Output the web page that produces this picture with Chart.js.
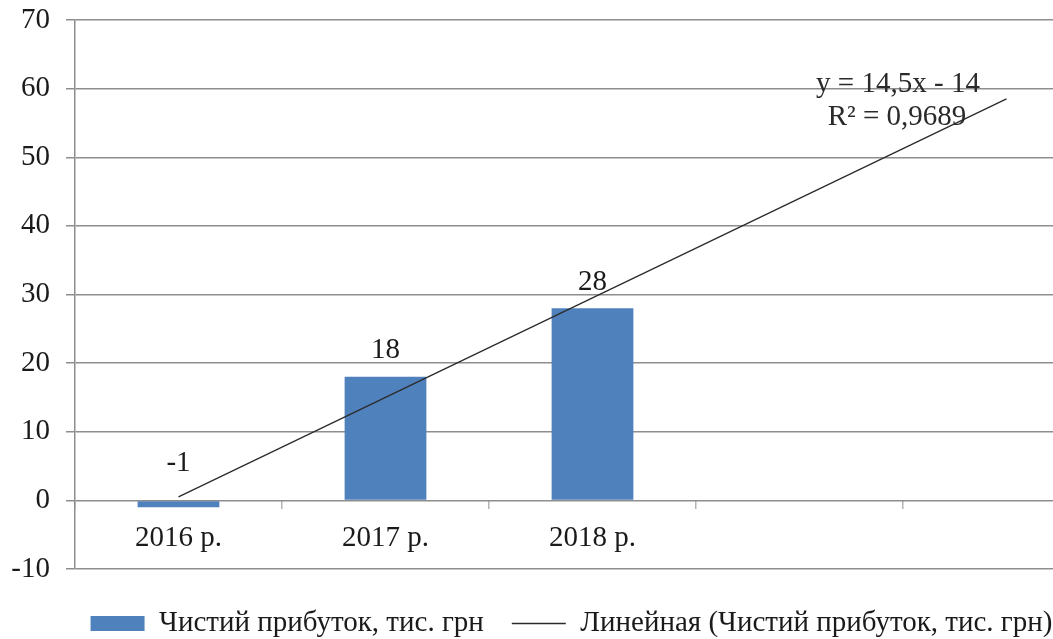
<!DOCTYPE html>
<html>
<head>
<meta charset="utf-8">
<script src="https://cdn.jsdelivr.net/npm/chart.js@4/dist/chart.umd.min.js"></script>
<style>
    html, body { margin: 0; padding: 0; overflow: hidden; background: #fff; width: 1053px; height: 639px; }
    #wrap { position: relative; width: 1143px; height: 648px; }
</style>
</head>
<body>
<div id="wrap"><canvas id="profitChart" width="1143" height="648"></canvas></div>
<script>
const years = ['2016 р.', '2017 р.', '2018 р.', '', ''];
const profit = [-1, 18, 28, null, null];
// linear trend y = 14,5x - 14, start and end as drawn (2 periods forward)
const trend = [0.5, null, null, null, 58.5];
const yMin = -10, yMax = 70, yStep = 10;
const seriesNames = ['Чистий прибуток, тис. грн', 'Линейная (Чистий прибуток, тис. грн)'];
const trendLabel = ['y = 14,5x - 14', 'R² = 0,9689'];

const FONT = '"Liberation Serif", "Times New Roman", serif';
const FSIZE = 29;
const gridColor = '#8e8e8e';
const textColor = '#1a1a1a';

const barLabels = {
    id: 'barLabels',
    afterDatasetsDraw(chart) {
        const ctx = chart.ctx;
        const y = chart.scales.y;
        const meta = chart.getDatasetMeta(0);
        ctx.save();
        ctx.font = FSIZE + 'px ' + FONT;
        ctx.fillStyle = textColor;
        ctx.textAlign = 'center';
        ctx.textBaseline = 'middle';
        meta.data.forEach((bar, i) => {
            const v = profit[i];
            if (v === null) return;
            const py = v >= 0 ? bar.y - 26 : y.getPixelForValue(0) - 37;
            ctx.fillText(String(v), bar.x, py);
        });
        // trend equation
        ctx.fillStyle = '#2a2a2a';
        ctx.fillText(trendLabel[0], 898, 84);
        ctx.fillText(trendLabel[1], 897, 117);
        ctx.restore();
    }
};

new Chart(document.getElementById('profitChart'), {
    data: {
        labels: years,
        datasets: [
            { type: 'bar', label: seriesNames[0], data: profit, backgroundColor: '#4f81bd', barPercentage: 0.395, categoryPercentage: 1, order: 2 },
            { type: 'line', label: seriesNames[1], data: trend, borderColor: '#2b2b2b', borderWidth: 1.3, pointRadius: 0, spanGaps: true, fill: false, order: 1 }
        ]
    },
    options: {
        responsive: false,
        animation: false,
        layout: { padding: 0 },
        plugins: {
            tooltip: { enabled: false },
            legend: {
                position: 'bottom',
                title: { display: true, text: '', font: { size: 1, lineHeight: 1 }, padding: { top: 11, bottom: 0 } },
                labels: {
                    usePointStyle: true, pointStyleWidth: 54, boxWidth: 54, boxHeight: 15, padding: 28,
                    font: { family: FONT, size: FSIZE }, color: textColor,
                    generateLabels: chart => chart.data.datasets.map((ds, i) => ({
                        text: ds.label, datasetIndex: i,
                        fillStyle: ds.type === 'line' ? 'rgba(0,0,0,0)' : ds.backgroundColor,
                        strokeStyle: ds.type === 'line' ? ds.borderColor : ds.backgroundColor,
                        lineWidth: ds.type === 'line' ? 1.3 : 0,
                        pointStyle: ds.type === 'line' ? 'line' : 'rect',
                        fontColor: textColor
                    }))
                }
            }
        },
        scales: {
            x: {
                type: 'category',
                position: { y: 0 },
                afterFit: s => { s.paddingRight = 33; s.paddingLeft = 0; },
                grid: { offset: true, drawOnChartArea: false, drawTicks: true, tickLength: 9, color: '#b5b5b5', lineWidth: 1.5 },
                border: { display: false },
                ticks: { font: { family: FONT, size: FSIZE }, color: textColor, padding: 12, maxRotation: 0, autoSkip: false }
            },
            y: {
                min: yMin, max: yMax,
                afterFit: s => { s.width = 75; s.paddingTop = 20; s.paddingBottom = 0; },
                ticks: { stepSize: yStep, font: { family: FONT, size: FSIZE }, color: textColor, padding: 16 },
                grid: { color: gridColor, lineWidth: 1.5, tickLength: 9 },
                border: { display: true, color: gridColor, width: 1.5 }
            }
        }
    },
    plugins: [barLabels]
});
</script>
</body>
</html>
